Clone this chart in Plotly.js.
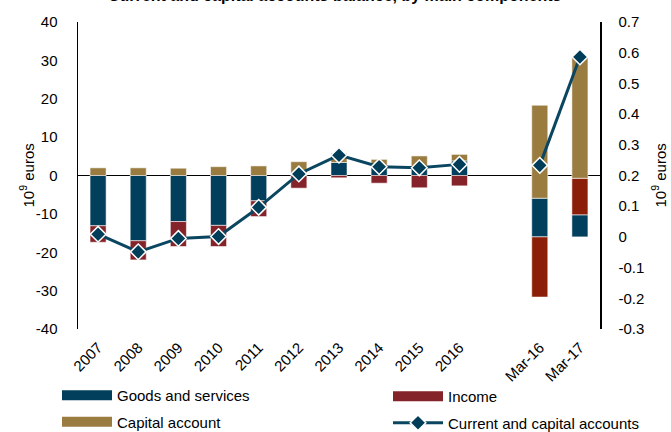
<!DOCTYPE html>
<html>
<head>
<meta charset="utf-8">
<script src="https://cdn.plot.ly/plotly-3.0.1.min.js"></script>
<style>html,body{margin:0;padding:0;background:#fff;}#chart{width:671px;height:432px;}</style>
</head>
<body>
<div id="chart"></div>
<script>
// ---- data ----
const annualYears = ['2007','2008','2009','2010','2011','2012','2013','2014','2015','2016'];
const annualGoods   = [-13.1, -17.0, -12.0, -13.0, -6.6, 0.3, 3.4, 2.1, 2.1, 3.8];
const annualIncome  = [-4.3, -5.0, -6.5, -5.5, -4.1, -3.3, -0.6, -2.0, -3.2, -2.7];
const annualCapital = [2.0, 2.0, 1.9, 2.3, 2.5, 3.3, 2.4, 2.1, 3.0, 1.7];
const annualBalance = [-15.3, -19.9, -16.4, -15.9, -8.3, 0.4, 5.3, 2.3, 2.0, 2.9];

const months = ['Mar-16','Mar-17'];
const monthGoods   = [0.126, 0.072];
const monthIncome  = [-0.196, 0.119];
const monthCapital = [0.303, 0.395];
const monthBalance = [0.233, 0.586];

const categoryOrder = annualYears.concat([' '], months);

const leftTicks = [-40,-30,-20,-10,0,10,20,30,40];
const leftTickText = ['-40','-30','-20','-10','0','10','20','30','40'];
const rightTicks = [-0.3,-0.2,-0.1,0,0.1,0.2,0.3,0.4,0.5,0.6,0.7];
const rightTickText = ['-0.3','-0.2','-0.1','0','0.1','0.2','0.3','0.4','0.5','0.6','0.7'];
const unitLabel = '10<sup>9</sup> euros';
const chartTitle = '<b>Current and capital accounts balance, by main components</b>';

// ---- styles ----
const FONT = "'Liberation Sans Narrow', 'Arial Narrow', 'Liberation Sans', Arial, sans-serif";
const FS = 15;
const C_GOODS = '#023F5C';
const C_INCOME = '#85232A';
const C_INCOME_M = '#8A1E08';
const C_CAPITAL = '#9A7C40';
const C_LINE = '#0B4661';
const barLine = {color:'rgba(255,255,255,0.55)', width:1};
const BW = 0.4;

const traces = [
  {type:'bar', x:annualYears, y:annualGoods, width:BW, marker:{color:C_GOODS, line:barLine}, showlegend:false, name:'Goods and services'},
  {type:'bar', x:annualYears, y:annualIncome, width:BW, marker:{color:C_INCOME, line:barLine}, showlegend:false, name:'Income'},
  {type:'bar', x:annualYears, y:annualCapital, width:BW, marker:{color:C_CAPITAL, line:barLine}, showlegend:false, name:'Capital account'},
  {type:'bar', x:months, y:monthGoods, width:BW, yaxis:'y2', marker:{color:C_GOODS, line:barLine}, showlegend:false, name:'Goods and services'},
  {type:'bar', x:months, y:monthIncome, width:BW, yaxis:'y2', marker:{color:C_INCOME_M, line:barLine}, showlegend:false, name:'Income'},
  {type:'bar', x:months, y:monthCapital, width:BW, yaxis:'y2', marker:{color:C_CAPITAL, line:barLine}, showlegend:false, name:'Capital account'},
  // legend entries
  {type:'scatter', mode:'lines', x:[null], y:[null], line:{color:C_GOODS, width:11}, name:'Goods and services', legend:'legend', legendgroup:'g1', hoverinfo:'skip'},
  {type:'scatter', mode:'lines', x:[null], y:[null], line:{color:C_CAPITAL, width:11}, name:'Capital account', legend:'legend', legendgroup:'g2', hoverinfo:'skip'},
  {type:'scatter', mode:'lines', x:[null], y:[null], line:{color:C_INCOME, width:11}, name:'Income', legend:'legend2', legendgroup:'g3', hoverinfo:'skip'},
  {type:'scatter', mode:'lines+markers', x:annualYears, y:annualBalance, name:'Current and capital accounts', legend:'legend2', legendgroup:'g4',
   line:{color:C_LINE, width:3}, marker:{symbol:'diamond', size:12, color:'#003D59', line:{color:'#ffffff', width:1.5}}},
  {type:'scatter', mode:'lines+markers', x:months, y:monthBalance, yaxis:'y2', showlegend:false, name:'Current and capital accounts',
   line:{color:C_LINE, width:3}, marker:{symbol:'diamond', size:12, color:'#003D59', line:{color:'#ffffff', width:1.5}}}
];

// plot area: x 78..600, y 22..329 (px)
const PW = 522, PH = 307;
const legendCommon = {orientation:'v', xref:'paper', yref:'paper', xanchor:'left', yanchor:'top',
  itemwidth:50, font:{family:FONT, size:FS}, traceorder:'grouped', tracegroupgap:4, bgcolor:'rgba(0,0,0,0)'};

const layout = {
  width:671, height:432,
  margin:{l:78, r:71, t:22, b:103, autoexpand:false},
  paper_bgcolor:'#fff', plot_bgcolor:'#fff',
  font:{family:FONT, size:FS, color:'#000'},
  barmode:'relative',
  showlegend:true,
  legend:Object.assign({}, legendCommon, {x:(57-78)/PW, y:(329-379)/PH}),
  legend2:Object.assign({}, legendCommon, {x:(388-78)/PW, y:(329-380)/PH}),
  annotations:[
    {text:chartTitle, xref:'paper', yref:'paper', x:(335-78)/PW, y:1 + (22-6)/PH, xanchor:'center', yanchor:'bottom',
     showarrow:false, font:{family:FONT, size:16, color:'#000'}},
    {text:unitLabel, xref:'paper', yref:'paper', x:(27-78)/PW, y:0.5, xanchor:'center', yanchor:'middle', textangle:-90,
     showarrow:false, font:{family:FONT, size:FS, color:'#000'}},
    {text:unitLabel, xref:'paper', yref:'paper', x:(659-78)/PW, y:0.5, xanchor:'center', yanchor:'middle', textangle:-90,
     showarrow:false, font:{family:FONT, size:FS, color:'#000'}}
  ],
  xaxis:{type:'category', categoryorder:'array', categoryarray:categoryOrder, range:[-0.5,12.5],
         showline:false, zeroline:false, showgrid:false, ticks:'', tickangle:-45,
         tickfont:{family:FONT, size:FS}, ticklabelstandoff:6, fixedrange:true},
  yaxis:{range:[-40,40], tickvals:leftTicks, ticktext:leftTickText, showline:true, linecolor:'#000', linewidth:1.5,
         zeroline:true, zerolinecolor:'#000', zerolinewidth:1.5, showgrid:false, ticks:'', ticklabelstandoff:16,
         tickfont:{family:FONT, size:FS}},
  yaxis2:{overlaying:'y', side:'right', range:[-0.3,0.7], tickvals:rightTicks, ticktext:rightTickText,
          showline:true, linecolor:'#000', linewidth:1.5, zeroline:false, showgrid:false, ticks:'', ticklabelstandoff:14,
          tickfont:{family:FONT, size:FS}}
};

Plotly.newPlot('chart', traces, layout, {staticPlot:true, displayModeBar:false});
</script>
</body>
</html>
